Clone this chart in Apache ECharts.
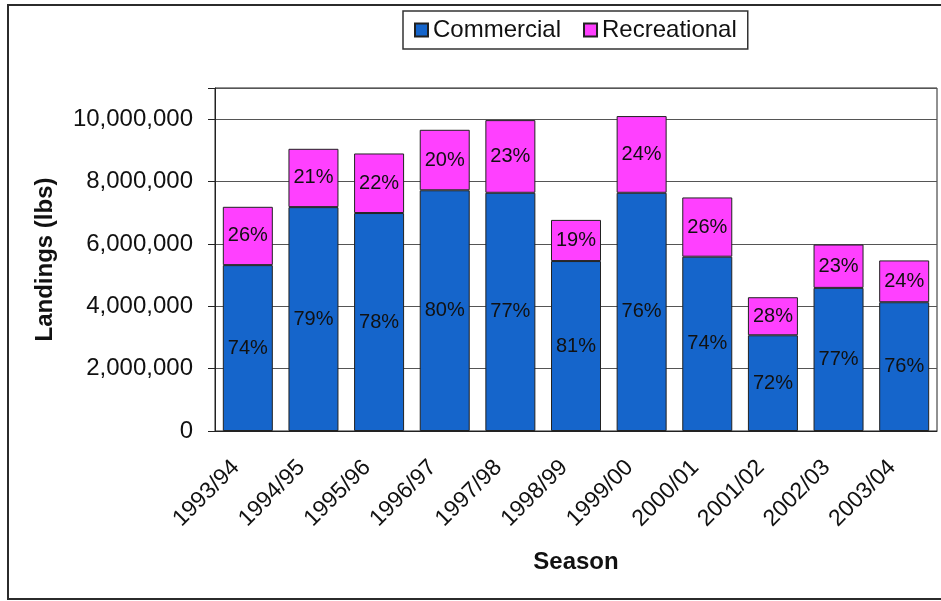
<!DOCTYPE html>
<html>
<head>
<meta charset="utf-8">
<script src="https://cdn.jsdelivr.net/npm/echarts@6/dist/echarts.min.js"></script>
<style>
  html, body { margin: 0; padding: 0; background: #fff; }
  #chart { width: 941px; height: 601px; }
</style>
</head>
<body>
<div id="chart"></div>
<script>
// seasons on the x axis
const seasons = ['1993/94', '1994/95', '1995/96', '1996/97', '1997/98', '1998/99',
                 '1999/00', '2000/01', '2001/02', '2002/03', '2003/04'];
// landings in lbs
const commercial   = [5320000, 7180000, 6990000, 7720000, 7640000, 5450000, 7640000, 5590000, 3070000, 4590000, 4130000];
const recreational = [1870000, 1870000, 1910000, 1940000, 2330000, 1320000, 2460000, 1900000, 1220000, 1390000, 1340000];
// share labels printed in the bars
const commercialPct   = ['74%', '79%', '78%', '80%', '77%', '81%', '76%', '74%', '72%', '77%', '76%'];
const recreationalPct = ['26%', '21%', '22%', '20%', '23%', '19%', '24%', '26%', '28%', '23%', '24%'];

const FONT = 'Liberation Sans, Arial, sans-serif';
const chart = echarts.init(document.getElementById('chart'));

const barLabel = (pcts) => ({
    show: true,
    position: 'inside',
    color: '#111',
    fontSize: 20,
    fontFamily: FONT,
    formatter: (p) => pcts[p.dataIndex]
});

chart.setOption({
    animation: false,
    backgroundColor: '#fff',
    graphic: [{
        type: 'rect',
        shape: { x: 8, y: 5, width: 945, height: 594 },
        style: { fill: 'none', stroke: '#2b2b2b', lineWidth: 2 },
        silent: true
    }],
    legend: {
        left: 403,
        top: 11,
        padding: [7, 11, 7, 11],
        borderColor: '#333',
        borderWidth: 1.5,
        itemGap: 22,
        itemWidth: 13,
        itemHeight: 13,
        icon: 'rect',
        textStyle: { fontSize: 24, fontFamily: FONT, color: '#111' },
        data: ['Commercial', 'Recreational']
    },
    grid: {
        left: 215,
        right: 4,
        top: 88,
        bottom: 170,
        show: true,
        borderColor: '#222',
        borderWidth: 1
    },
    xAxis: {
        type: 'category',
        data: seasons,
        name: 'Season',
        nameLocation: 'middle',
        nameGap: 119,
        nameTextStyle: { fontSize: 24, fontWeight: 'bold', fontFamily: FONT, color: '#111' },
        axisLine: { lineStyle: { color: '#222', width: 1 } },
        axisTick: { length: 7, lineStyle: { color: '#222' } },
        axisLabel: {
            interval: 0,
            rotate: 45,
            margin: 21,
            padding: [0, 17, 0, 0],
            fontSize: 23,
            fontFamily: FONT,
            color: '#111'
        }
    },
    yAxis: {
        type: 'value',
        min: 0,
        max: 11000000,
        interval: 2000000,
        name: 'Landings (lbs)',
        nameLocation: 'middle',
        nameGap: 158,
        nameTextStyle: { fontSize: 24, fontWeight: 'bold', fontFamily: FONT, color: '#111' },
        axisLine: { show: true, lineStyle: { color: '#222', width: 1 } },
        axisTick: { show: true, length: 7, lineStyle: { color: '#222' } },
        axisLabel: {
            margin: 22,
            fontSize: 24,
            fontFamily: FONT,
            color: '#111',
            formatter: (v) => v > 10000000 ? '' : v.toLocaleString('en-US')
        },
        splitLine: { lineStyle: { color: '#555', width: 1 } }
    },
    series: [{
        name: 'Commercial',
        type: 'bar',
        stack: 'total',
        barWidth: 50,
        data: commercial,
        itemStyle: { color: '#1565CB', borderColor: '#222', borderWidth: 1 },
        label: barLabel(commercialPct)
    }, {
        name: 'Recreational',
        type: 'bar',
        stack: 'total',
        barWidth: 50,
        data: recreational,
        itemStyle: { color: '#FF40FF', borderColor: '#222', borderWidth: 1 },
        label: barLabel(recreationalPct)
    }]
});
</script>
</body>
</html>
